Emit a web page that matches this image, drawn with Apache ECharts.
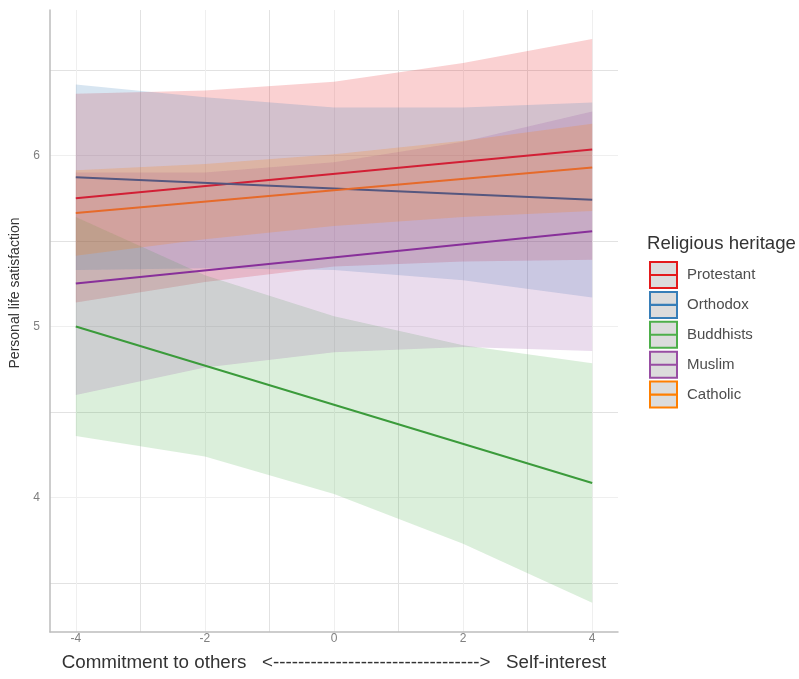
<!DOCTYPE html>
<html>
<head>
<meta charset="utf-8">
<script src="https://cdn.jsdelivr.net/npm/echarts@6/dist/echarts.min.js"></script>
<style>
  html, body { margin: 0; padding: 0; background: #fff; }
  #main { width: 799px; height: 679px; }
</style>
</head>
<body>
<div id="main"></div>
<script>
var groups = ['Protestant', 'Orthodox', 'Buddhists', 'Muslim', 'Catholic'];
var colors = ['#e41a1c', '#377eb8', '#4daf4a', '#984ea3', '#ff7f00'];
var lineColors = ['#d21f35', '#55577f', '#3b9b3b', '#88309a', '#e66a2a'];

// x positions where the fitted line and the bands were read
var lineX = [-4, 4];
var bandX = [-4, -2, 0, 2, 4];

var protestantLine = [5.75, 6.035];
var protestantUpper = [6.36, 6.38, 6.43, 6.54, 6.68];
var protestantLower = [5.14, 5.26, 5.35, 5.38, 5.39];

var orthodoxLine = [5.873, 5.741];
var orthodoxUpper = [6.415, 6.34, 6.28, 6.28, 6.31];
var orthodoxLower = [5.33, 5.34, 5.33, 5.27, 5.17];

var buddhistsLine = [5.0, 4.085];
var buddhistsUpper = [5.64, 5.30, 5.06, 4.89, 4.785];
var buddhistsLower = [4.36, 4.24, 4.02, 3.73, 3.385];

var muslimLine = [5.251, 5.557];
var muslimUpper = [5.90, 5.90, 5.96, 6.08, 6.257];
var muslimLower = [4.60, 4.76, 4.85, 4.88, 4.857];

var catholicLine = [5.663, 5.93];
var catholicUpper = [5.913, 5.95, 6.007, 6.085, 6.185];
var catholicLower = [5.413, 5.51, 5.587, 5.64, 5.675];

var lines = [protestantLine, orthodoxLine, buddhistsLine, muslimLine, catholicLine];
var uppers = [protestantUpper, orthodoxUpper, buddhistsUpper, muslimUpper, catholicUpper];
var lowers = [protestantLower, orthodoxLower, buddhistsLower, muslimLower, catholicLower];

var font = 'Liberation Sans, Arial, sans-serif';

var chartDom = document.getElementById('main');
var myChart = echarts.init(chartDom);
var option;

function ribbon(i) {
    var up = uppers[i], lo = lowers[i];
    return {
        type: 'custom',
        name: groups[i] + ' band',
        silent: true,
        z: 1,
        data: [0],
        renderItem: function (params, api) {
            var pts = [];
            for (var k = 0; k < bandX.length; k++) pts.push(api.coord([bandX[k], up[k]]));
            for (var k = bandX.length - 1; k >= 0; k--) pts.push(api.coord([bandX[k], lo[k]]));
            return {
                type: 'polygon',
                shape: { points: pts },
                style: { fill: colors[i], opacity: 0.2 }
            };
        }
    };
}

var series = [];
groups.forEach(function (g, i) { series.push(ribbon(i)); });
groups.forEach(function (g, i) {
    series.push({
        type: 'line',
        name: g,
        z: 3,
        symbol: 'none',
        data: lineX.map(function (x, k) { return [x, lines[i][k]]; }),
        lineStyle: { color: lineColors[i], width: 2 },
        itemStyle: { color: colors[i] }
    });
});

// legend key: grey box with coloured border, and a coloured line across its middle
var midIcon = 'path://M0,0h0.01v0.01h-0.01z M0,9.2h20v1.6h-20z M19.99,19.99h0.01v0.01h-0.01z';

var xName = 'Commitment to others   <' + '---------------------------------' + '>   Self-interest';

option = {
    animation: false,
    title: {
        text: 'Religious heritage',
        left: 647,
        top: 234,
        padding: 0,
        textStyle: { fontFamily: font, fontSize: 18.6, fontWeight: 'normal', color: '#333' }
    },
    legend: [
        {
            orient: 'vertical',
            left: 649,
            top: 261,
            padding: 0,
            itemWidth: 27,
            itemHeight: 26,
            itemGap: 1.9,
            icon: 'rect',
            textStyle: { fontFamily: font, fontSize: 15, color: '#4d4d4d', padding: [0, 0, 0, 5] },
            data: groups.map(function (g, i) {
                return { name: g, itemStyle: { color: '#dcdcdc', borderColor: colors[i], borderWidth: 2 } };
            })
        },
        {
            orient: 'vertical',
            left: 650,
            top: 262,
            padding: 0,
            itemWidth: 27,
            itemHeight: 26,
            itemGap: 3.9,
            icon: midIcon,
            selectedMode: false,
            textStyle: { fontFamily: font, fontSize: 15, color: 'transparent', padding: [0, 0, 0, 5] },
            data: groups.map(function (g, i) {
                return { name: g, itemStyle: { color: colors[i], borderWidth: 0 } };
            })
        }
    ],
    grid: {
        left: 50,
        right: 181,
        top: 10,
        bottom: 47
    },
    xAxis: {
        type: 'value',
        min: -4.4,
        max: 4.4,
        minInterval: 1,
        maxInterval: 1,
        name: xName,
        nameLocation: 'middle',
        nameGap: 21,
        nameTextStyle: { fontFamily: font, fontSize: 18.8, color: '#333' },
        axisLine: { show: true, onZero: false, lineStyle: { color: '#bdbdbd', width: 1.5 } },
        axisTick: { show: false },
        axisLabel: {
            margin: 1,
            fontFamily: font,
            fontSize: 12,
            color: '#7f7f7f',
            formatter: function (v) { return Math.abs(v % 2) < 1e-9 ? String(v) : ''; }
        },
        splitLine: {
            show: true,
            showMinLine: false,
            showMaxLine: false,
            lineStyle: { color: ['#efefef', '#e2e2e2'], width: 1 }
        }
    },
    yAxis: {
        type: 'value',
        min: 3.214,
        max: 6.85,
        minInterval: 0.5,
        maxInterval: 0.5,
        name: 'Personal life satisfaction',
        nameLocation: 'middle',
        nameGap: 26,
        nameTextStyle: { fontFamily: font, fontSize: 14, color: '#333', padding: [0, 0, 0, 56] },
        axisLine: { show: true, onZero: false, lineStyle: { color: '#bdbdbd', width: 1.5 } },
        axisTick: { show: false },
        axisLabel: {
            margin: 10,
            fontFamily: font,
            fontSize: 12,
            color: '#7f7f7f',
            formatter: function (v) { return Math.abs(v - Math.round(v)) < 1e-9 ? String(v) : ''; }
        },
        splitLine: {
            show: true,
            showMinLine: false,
            showMaxLine: false,
            lineStyle: { color: ['#e2e2e2', '#efefef'], width: 1 }
        }
    },
    series: series
};

option && myChart.setOption(option);
</script>
</body>
</html>
